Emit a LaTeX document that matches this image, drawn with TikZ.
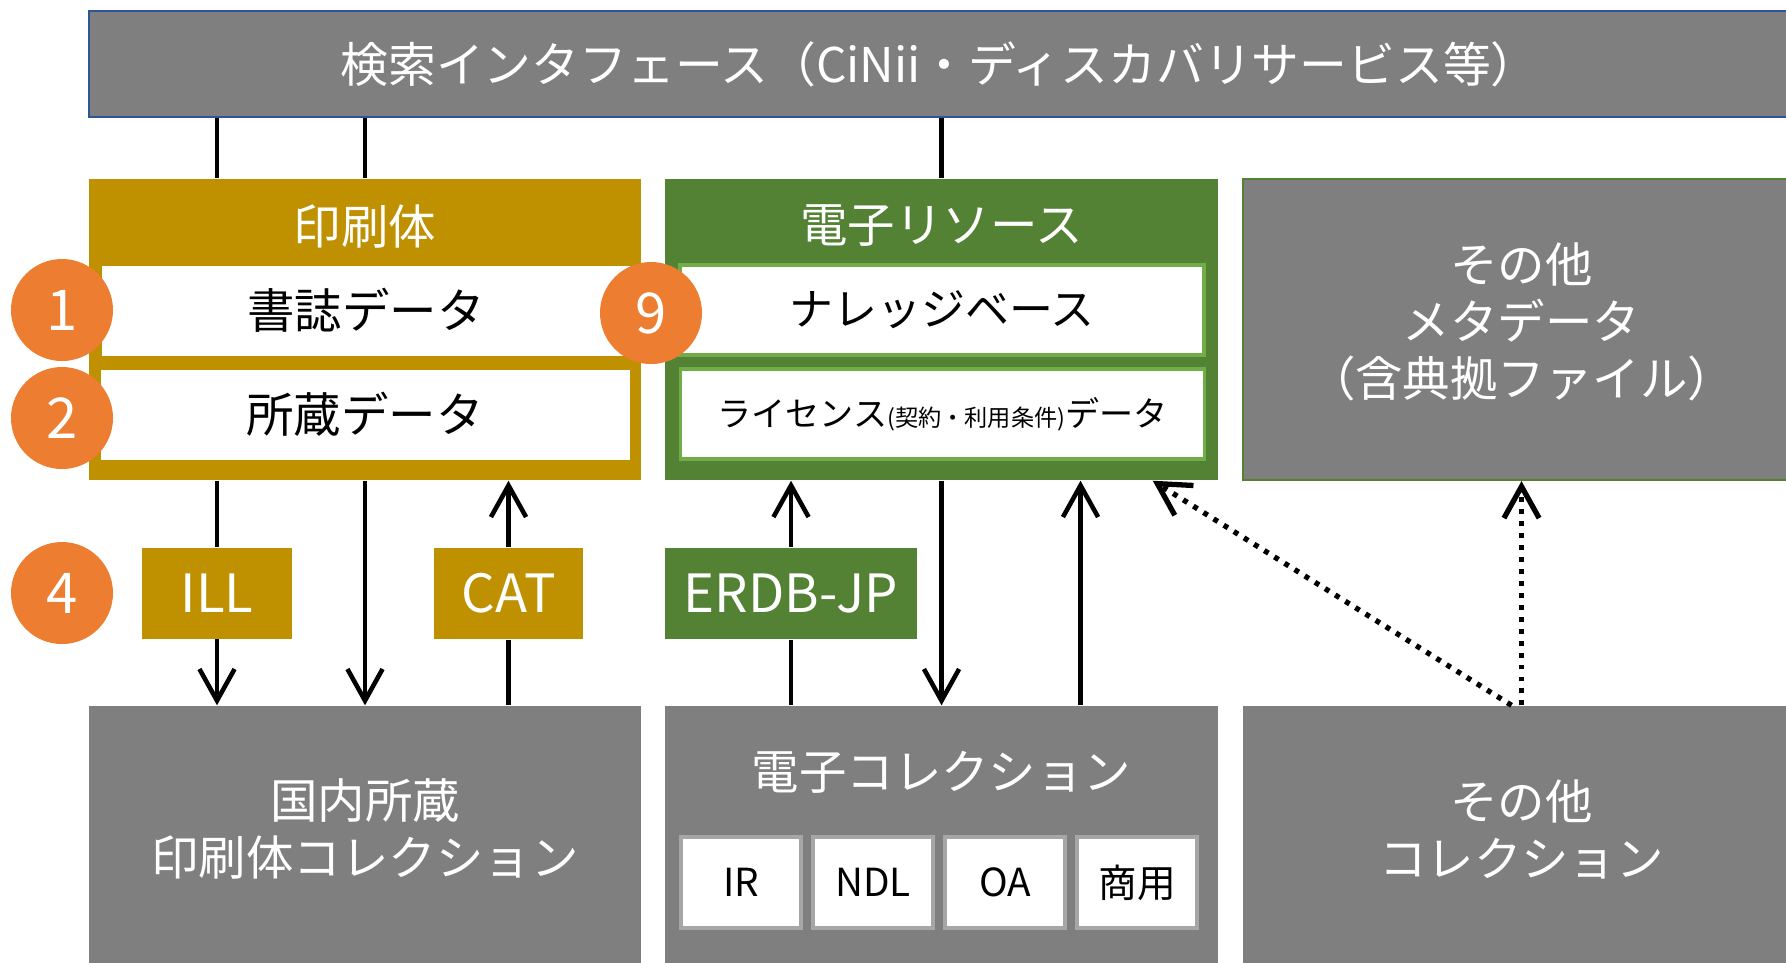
\documentclass[tikz,border=0pt]{standalone}
\usepackage{fontspec}
\setmainfont{Noto Sans CJK JP}
\usetikzlibrary{arrows.meta}

\definecolor{printgold}{HTML}{BF9000}
\definecolor{egreen}{HTML}{548235}
\definecolor{lightgreen}{HTML}{70AD47}
\definecolor{boxgray}{HTML}{7F7F7F}
\definecolor{sourcegray}{HTML}{A6A6A6}
\definecolor{barblue}{HTML}{2F5597}
\definecolor{badgeorange}{HTML}{ED7D31}

\newcommand{\bigjp}{\fontsize{13.5}{16.2}\selectfont}

\tikzstyle{searchbar} = [draw=barblue, line width=0.7pt, fill=boxgray, rectangle,
  text=white, minimum width=170.1mm, minimum height=10.6mm,
  font=\fontsize{13.6}{16}\selectfont]
\tikzstyle{panel} = [rectangle, minimum width=55.2mm, minimum height=30.1mm]
\tikzstyle{printpanel} = [panel, fill=printgold]
\tikzstyle{epanel} = [panel, fill=egreen, minimum width=55.3mm]
\tikzstyle{metapanel} = [panel, fill=boxgray, draw=egreen, line width=0.6pt,
  minimum width=55.7mm]
\tikzstyle{paneltitle} = [text=white, font=\bigjp, align=center]
\tikzstyle{record} = [fill=white, rectangle, minimum width=52.9mm,
  minimum height=9mm, font=\bigjp]
\tikzstyle{erecord} = [record, draw=lightgreen, line width=0.9pt,
  minimum width=52.4mm]
\tikzstyle{badge} = [circle, fill=badgeorange, text=white, minimum size=10.2mm,
  inner sep=0pt, font=\fontsize{16}{16}\selectfont]
\tikzstyle{tool} = [rectangle, text=white, minimum height=9.1mm,
  font=\fontsize{15}{15}\selectfont]
\tikzstyle{collection} = [rectangle, fill=boxgray, minimum width=55.2mm,
  minimum height=26.9mm]
\tikzstyle{source} = [draw=sourcegray, fill=white, rectangle, line width=0.9pt,
  minimum width=12mm, minimum height=9.1mm, font=\fontsize{11}{11}\selectfont]
\tikzstyle{flow} = [line width=1.3pt]
\tikzstyle{hintflow} = [line width=1.5pt, dash pattern=on 1.4pt off 2pt]

\begin{document}
\begin{tikzpicture}[x=0.1mm, y=-0.1mm, >={Straight Barb[length=9pt,width=10pt]}]
        \useasboundingbox (0,0) rectangle (1786,962);
        \clip (0,0) rectangle (1786,962);

        \node [searchbar] (search) at (939.5, 64) {検索インタフェース（CiNii・ディスカバリサービス等）};

        \node [printpanel] (print)     at (365,   329.5) {};
        \node [epanel]     (eres)      at (941.5, 329.5) {};
        \node [metapanel]  (othermeta) at (1521.5,329.5) {};
        \node [paneltitle] (printtitle) at (365,  226) {印刷体};
        \node [paneltitle] (etitle)     at (941.5,226) {電子リソース};
        \node [paneltitle] (metatitle)  at (1521.5,322) {その他\\メタデータ\\（含典拠ファイル）};

        \node [record]  (biblio)  at (366,   310.5) {書誌データ};
        \node [record]  (holding) at (365,   414.5) {所蔵データ};
        \node [erecord] (kb)      at (942,   310) {\fontsize{12.5}{15}\selectfont ナレッジベース};
        \node [erecord] (license) at (942.5, 414) {\fontsize{9.7}{12}\selectfont ライセンス{\fontsize{6.6}{8}\selectfont (契約・利用条件)}データ};

        \node [badge] (c1) at (62,  310) {1};
        \node [badge] (c2) at (62,  418) {2};
        \node [badge] (c4) at (62,  593) {4};
        \node [badge] (c9) at (651, 313) {9};

        \node [tool, fill=printgold, minimum width=15mm]  (ill)  at (217,   593)   {ILL};
        \node [tool, fill=printgold, minimum width=14.9mm] (cat)  at (508.5, 593.5) {CAT};
        \node [tool, fill=egreen,   minimum width=25.2mm] (erdb) at (791,   593.5) {ERDB-JP};

        \node [collection] (printcoll) at (365,    840.5) {};
        \node [collection, minimum width=55.3mm] (ecoll) at (941.5, 840.5) {};
        \node [collection, minimum width=55.7mm] (othercoll) at (1521.5, 840.5) {};
        \node [paneltitle] (printcolltext) at (365,   829) {国内所蔵\\印刷体コレクション};
        \node [paneltitle] (ecolltitle)    at (941.5, 772) {電子コレクション};
        \node [paneltitle] (othercolltext) at (1521.5,829) {その他\\コレクション};

        \node [source] (ir)  at (741,  882.5) {IR};
        \node [source] (ndl) at (873,  882.5) {NDL};
        \node [source] (oa)  at (1005, 882.5) {OA};
        \node [source] (com) at (1137, 882.5) {商用};

        \draw[flow] (search.south -| ill.north) -- (print.north -| ill.north);
        \draw[flow] (search.south -| print.north) -- (print.north);
        \draw[flow] (search.south -| eres.north) -- (eres.north);
        \draw[flow] (print.south -| ill.north) -- (ill.north);
        \draw[flow,->] (ill.south) -- (ill.south |- printcoll.north);
        \draw[flow,->] (print.south) -- (printcoll.north);
        \draw[flow] (cat.south |- printcoll.north) -- (cat.south);
        \draw[flow,->] (cat.north) -- (cat.north |- print.south);
        \draw[flow] (erdb.south |- ecoll.north) -- (erdb.south);
        \draw[flow,->] (erdb.north) -- (erdb.north |- eres.south);
        \draw[flow,->] (eres.south) -- (ecoll.north);
        \draw[flow,->] ([xshift=13.9mm]ecoll.north) -- ([xshift=13.9mm]eres.south);
        \draw[hintflow,->] ([xshift=-1mm]othercoll.north) -- ([xshift=-6.6mm]eres.south east);
        \draw[hintflow,->] (othercoll.north) -- (othermeta.south);
      \end{tikzpicture}
\end{document}
